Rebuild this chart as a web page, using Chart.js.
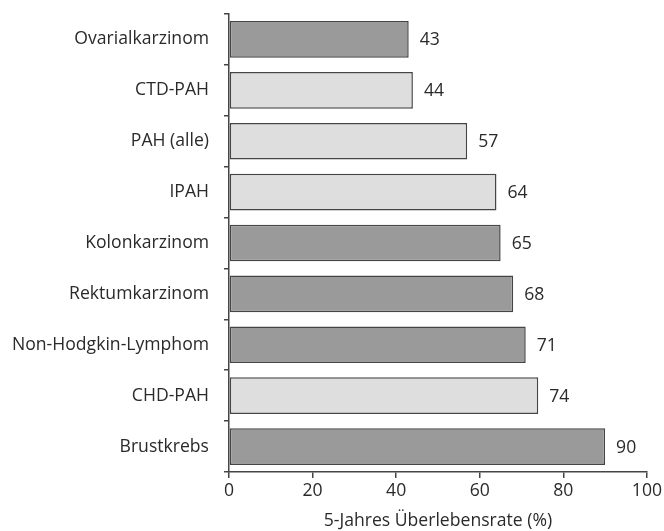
<!DOCTYPE html>
<html>
<head>
<meta charset="utf-8">
<script src="https://cdn.jsdelivr.net/npm/chart.js@4"></script>
<style>
  html, body { margin: 0; padding: 0; background: #fff; }
  #wrap { width: 664px; height: 531px; }
</style>
</head>
<body>
<div id="wrap"><canvas id="myChart" width="664" height="531"></canvas></div>
<script>
// 5-Jahres-Überlebensraten
var labels = ["Ovarialkarzinom", "CTD-PAH", "PAH (alle)", "IPAH", "Kolonkarzinom",
              "Rektumkarzinom", "Non-Hodgkin-Lymphom", "CHD-PAH", "Brustkrebs"];
var rates = [43, 44, 57, 64, 65, 68, 71, 74, 90];
var groups = ["Krebs", "PAH", "PAH", "PAH", "Krebs", "Krebs", "Krebs", "PAH", "Krebs"];
var xTicks = [0, 20, 40, 60, 80, 100];

var fills = { Krebs: '#9a9a9a', PAH: '#dedede' };
var font = "'Open Sans', sans-serif";
var ink = '#2a2a2a';
var axisCol = '#454545';

// writes the value to the right of each bar
var valueLabels = {
    id: 'valueLabels',
    afterDatasetsDraw: function (chart) {
        var ctx = chart.ctx;
        var meta = chart.getDatasetMeta(0);
        ctx.save();
        ctx.font = '17.6px ' + font;
        ctx.fillStyle = ink;
        ctx.textAlign = 'left';
        ctx.textBaseline = 'middle';
        meta.data.forEach(function (bar, i) {
            ctx.fillText(String(rates[i]), bar.x + 11, bar.y + 1);
        });
        ctx.restore();
    }
};

var ctx = document.getElementById('myChart').getContext('2d');
var chart = new Chart(ctx, {
    type: 'bar',
    data: {
        labels: labels,
        datasets: [{
            data: rates,
            backgroundColor: groups.map(function (g) { return fills[g]; }),
            borderColor: axisCol,
            borderWidth: 1.5,
            borderSkipped: false,
            categoryPercentage: 1,
            barPercentage: 0.72
        }]
    },
    options: {
        indexAxis: 'y',
        responsive: false,
        animation: false,
        layout: { padding: { top: 14, right: 17, left: 0, bottom: 0 } },
        plugins: { legend: { display: false }, tooltip: { enabled: false } },
        scales: {
            x: {
                min: 0,
                max: 100,
                afterBuildTicks: function (scale) {
                    scale.ticks = xTicks.map(function (v) { return { value: v }; });
                },
                afterFit: function (scale) { scale.height = 59; },
                border: { display: true, color: axisCol, width: 1.5 },
                grid: { drawOnChartArea: false, drawTicks: true, tickLength: 6, color: axisCol, lineWidth: 1.5 },
                ticks: { color: ink, font: { family: font, size: 17.6 }, padding: 2, maxRotation: 0 },
                title: {
                    display: true,
                    text: '5-Jahres Überlebensrate (%)',
                    color: ink,
                    font: { family: font, size: 17.6, lineHeight: 1.1 },
                    padding: { top: 0, bottom: 0 }
                }
            },
            y: {
                afterFit: function (scale) {
                    scale.width = 229;
                    // labels sit inside their bands, no extra room above or below
                    scale.paddingTop = 0;
                    scale.paddingBottom = 0;
                },
                border: { display: true, color: axisCol, width: 1.5 },
                grid: { drawOnChartArea: false, drawTicks: true, tickLength: 5, color: axisCol, lineWidth: 1.5, offset: true },
                ticks: { color: ink, font: { family: font, size: 17.6 }, padding: 15 }
            }
        }
    },
    plugins: [valueLabels]
});
</script>
</body>
</html>
